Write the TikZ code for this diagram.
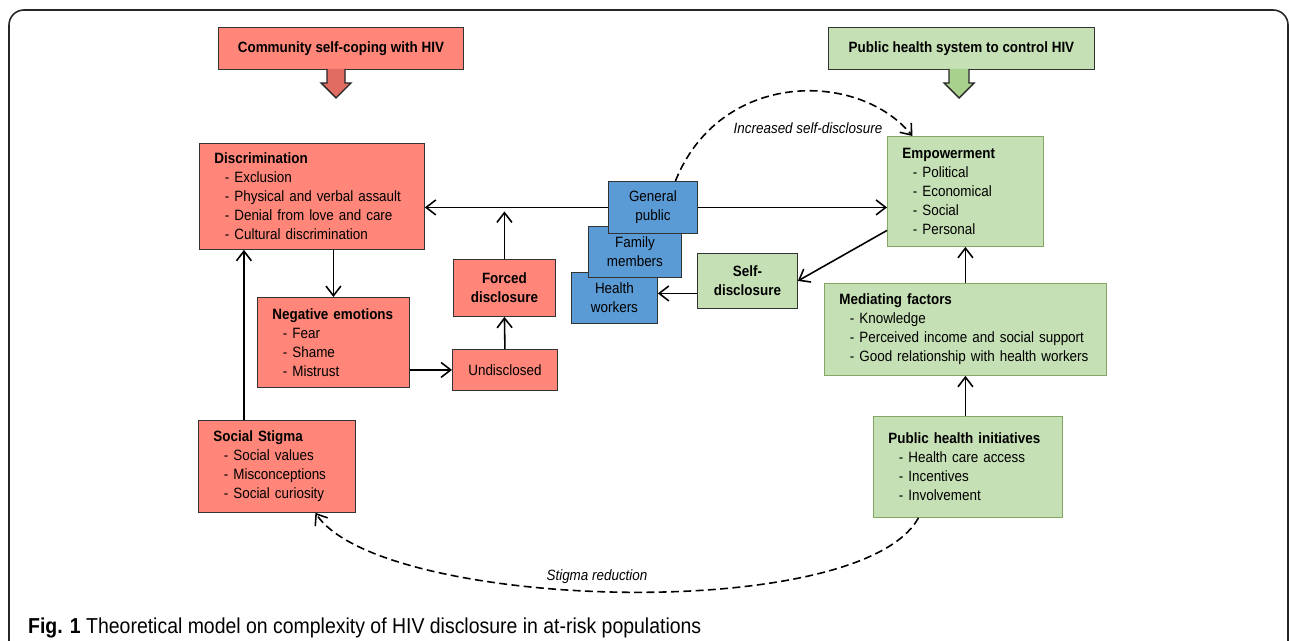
\documentclass[tikz,border=0pt]{standalone}
\usepackage{fontspec}
\setmainfont{Liberation Sans}[FakeStretch=0.9]
\usepackage{tikz}
\usetikzlibrary{arrows.meta,positioning,calc}

\definecolor{salmon}{RGB}{255,134,120}
\definecolor{salmondark}{RGB}{224,108,98}
\definecolor{skyblue}{RGB}{91,155,213}
\definecolor{lightgreen}{RGB}{197,224,180}
\definecolor{midgreen}{RGB}{169,209,142}
\definecolor{greenline}{RGB}{130,168,100}

\begin{document}
\begin{tikzpicture}[x=0.02cm, y=-0.02cm,
    box/.style={draw=black!80, line width=0.5pt, anchor=north west, font=\fontsize{8.5}{10.8}\selectfont},
    rbox/.style={box, fill=salmon, align=center},
    rlist/.style={box, fill=salmon, align=left, inner xsep=0.3cm},
    bbox/.style={box, fill=skyblue, align=center},
    gbox/.style={box, fill=lightgreen, align=center},
    glist/.style={box, fill=lightgreen, draw=greenline, align=left, inner xsep=0.3cm},
    hdr/.style={font=\fontsize{8.5}{10.8}\selectfont\bfseries, minimum height=0.84cm},
    arr/.style={-{Straight Barb[length=5.5pt,width=8.5pt]}, line width=0.9pt},
    darr/.style={arr, dash pattern=on 4.5pt off 2.5pt},
    lbl/.style={font=\fontsize{8.5}{10.8}\selectfont\itshape},
    bigarr/.style={draw=black!85, line width=0.8pt}
]
\useasboundingbox (0,0) rectangle (1290,641);
\draw[line width=0.9pt, rounded corners=0.3cm, black!85] (9,10) rectangle (1288,700);

% headers
\node[rbox, hdr, minimum width=4.9cm] (comm) at (218,27) {Community self-coping with HIV};
\node[gbox, hdr, minimum width=5.32cm] (phs) at (828,27) {Public health system to control HIV};
\draw[bigarr, fill=salmondark, shift={(336,69)}] (-9,0) -- (-9,14) -- (-15,14) -- (0,29) -- (15,14) -- (9,14) -- (9,0);
\draw[bigarr, fill=midgreen, shift={(959,69)}] (-10,0) -- (-10,14) -- (-15,14) -- (0,29) -- (15,14) -- (10,14) -- (10,0);

% community side
\node[rlist, text width=3.9cm, minimum height=2.12cm] (disc) at (199,143)
  {\textbf{Discrimination}\\\hspace*{0.7em}- Exclusion\\\hspace*{0.7em}- Physical and verbal assault\\\hspace*{0.7em}- Denial from love and care\\\hspace*{0.7em}- Cultural discrimination};
\node[rlist, text width=2.44cm, minimum height=1.8cm] (neg) at (257,297)
  {\textbf{Negative emotions}\\\hspace*{0.7em}- Fear\\\hspace*{0.7em}- Shame\\\hspace*{0.7em}- Mistrust};
\node[rlist, text width=2.54cm, minimum height=1.84cm] (stig) at (198,420)
  {\textbf{Social Stigma}\\\hspace*{0.7em}- Social values\\\hspace*{0.7em}- Misconceptions\\\hspace*{0.7em}- Social curiosity};
\node[rbox, font=\fontsize{8.5}{10.8}\selectfont\bfseries, minimum width=2.04cm, minimum height=1.14cm] (forced) at (453,259) {Forced\\disclosure};
\node[rbox, minimum width=2.1cm, minimum height=0.82cm] (und) at (452,349) {Undisclosed};

% people
\node[bbox, minimum width=1.72cm, minimum height=1.02cm] (hw) at (571,272) {Health\\workers};
\node[bbox, minimum width=1.86cm, minimum height=1.02cm] (fm) at (588,226) {Family\\members};
\node[bbox, minimum width=1.78cm, minimum height=1.04cm] (gp) at (608,181) {General\\public};

% public health side
\node[gbox, font=\fontsize{8.5}{10.8}\selectfont\bfseries, minimum width=2cm, minimum height=1.1cm] (self) at (697,253) {Self-\\disclosure};
\node[glist, text width=2.52cm, minimum height=2.2cm] (emp) at (887,136)
  {\textbf{Empowerment}\\\hspace*{0.7em}- Political\\\hspace*{0.7em}- Economical\\\hspace*{0.7em}- Social\\\hspace*{0.7em}- Personal};
\node[glist, text width=5.04cm, minimum height=1.84cm] (med) at (824,283)
  {\textbf{Mediating factors}\\\hspace*{0.7em}- Knowledge\\\hspace*{0.7em}- Perceived income and social support\\\hspace*{0.7em}- Good relationship with health workers};
\node[glist, text width=3.18cm, minimum height=2.02cm] (phi) at (873,416)
  {\textbf{Public health initiatives}\\\hspace*{0.7em}- Health care access\\\hspace*{0.7em}- Incentives\\\hspace*{0.7em}- Involvement};

\coordinate (fd) at (forced.north |- gp.west);

\draw[arr] (gp.west) -- (gp.west -| disc.east);
\draw[arr] (gp.east) -- (gp.east -| emp.west);
\draw[arr, shorten >=0.08cm] (forced.north) -- (fd);
\draw[arr] (neg.north |- disc.south) -- (neg.north);
\draw[arr] (und.west -| neg.east) -- (und.west);
\draw[arr] (und.north) -- (forced.south);
\draw[arr] ([xshift=-0.66cm]stig.north) -- ([xshift=-0.66cm]stig.north |- disc.south);
\draw[arr] ([yshift=-0.78cm]emp.west) -- (self.east);
\draw[arr] ([yshift=0.09cm]hw.east -| self.west) -- ([yshift=0.09cm]hw.east);
\draw[arr] (med.north -| emp.south) -- (emp.south);
\draw[arr] (phi.north -| med.south) -- (med.south);

\draw[darr] ([xshift=0.45cm]gp.north) .. controls (720,70) and (858,70) .. ([xshift=-1.06cm]emp.north);
\draw[darr] ([xshift=-0.99cm]phi.south) .. controls (860,625) and (380,610) .. ([xshift=0.77cm]stig.south);

\node[lbl] (inc) at (808,128) {Increased self-disclosure};
\node[lbl] (red) at (597,577) {Stigma reduction};

\node[anchor=base west, font=\fontsize{12.3}{14}\selectfont] (cap) at (22,633)
  {\textbf{Fig. 1} Theoretical model on complexity of HIV disclosure in at-risk populations};
\end{tikzpicture}
\end{document}
